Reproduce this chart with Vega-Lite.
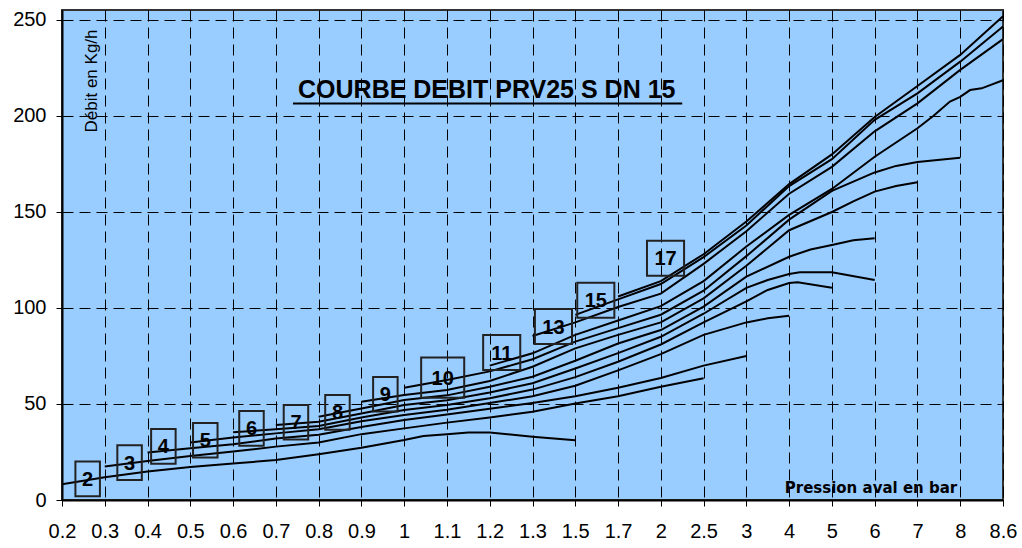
{
  "$schema": "https://vega.github.io/schema/vega-lite/v6.json",
  "width": 941,
  "height": 490,
  "autosize": {"type": "none"},
  "padding": {"left": 62, "top": 10, "right": 19, "bottom": 48},
  "background": "white",
  "config": {
    "view": {"fill": "#99CCFF", "stroke": "#333333", "strokeWidth": 2},
    "font": "Liberation Sans"
  },
  "datasets": {
    "curves": [
      {"c": "2", "x": 0, "y": 8.2}, {"c": "2", "x": 1, "y": 11.9}, {"c": "2", "x": 2, "y": 14.8}, {"c": "2", "x": 3, "y": 17.2}, {"c": "2", "x": 4, "y": 19}, {"c": "2", "x": 5, "y": 20.8}, {"c": "2", "x": 6, "y": 23.8}, {"c": "2", "x": 7, "y": 27.2}, {"c": "2", "x": 8, "y": 31.2}, {"c": "2", "x": 8.45, "y": 33.3}, {"c": "2", "x": 9, "y": 34.3}, {"c": "2", "x": 9.5, "y": 35.2}, {"c": "2", "x": 10, "y": 35.2}, {"c": "2", "x": 11, "y": 33}, {"c": "2", "x": 12, "y": 31.1},
      {"c": "3", "x": 1, "y": 17.4}, {"c": "3", "x": 2, "y": 20.3}, {"c": "3", "x": 3, "y": 22.9}, {"c": "3", "x": 4, "y": 25.2}, {"c": "3", "x": 5, "y": 27.8}, {"c": "3", "x": 6, "y": 30}, {"c": "3", "x": 7, "y": 34.3}, {"c": "3", "x": 8, "y": 37.3}, {"c": "3", "x": 9, "y": 40.3}, {"c": "3", "x": 10, "y": 43}, {"c": "3", "x": 11, "y": 46}, {"c": "3", "x": 12, "y": 50.3}, {"c": "3", "x": 13, "y": 54}, {"c": "3", "x": 14, "y": 59}, {"c": "3", "x": 15, "y": 63.4},
      {"c": "4", "x": 2, "y": 24.8}, {"c": "4", "x": 3, "y": 26.9}, {"c": "4", "x": 4, "y": 29}, {"c": "4", "x": 5, "y": 32}, {"c": "4", "x": 6, "y": 34}, {"c": "4", "x": 7, "y": 38}, {"c": "4", "x": 8, "y": 41.7}, {"c": "4", "x": 9, "y": 44.5}, {"c": "4", "x": 10, "y": 47.5}, {"c": "4", "x": 11, "y": 50.5}, {"c": "4", "x": 12, "y": 54}, {"c": "4", "x": 13, "y": 58.5}, {"c": "4", "x": 14, "y": 63.5}, {"c": "4", "x": 15, "y": 70}, {"c": "4", "x": 16, "y": 75},
      {"c": "5", "x": 3, "y": 30}, {"c": "5", "x": 4, "y": 32.6}, {"c": "5", "x": 5, "y": 34.7}, {"c": "5", "x": 6, "y": 36.8}, {"c": "5", "x": 7, "y": 41}, {"c": "5", "x": 8, "y": 44.3}, {"c": "5", "x": 9, "y": 47}, {"c": "5", "x": 10, "y": 50.5}, {"c": "5", "x": 11, "y": 54}, {"c": "5", "x": 12, "y": 59.5}, {"c": "5", "x": 13, "y": 67.5}, {"c": "5", "x": 14, "y": 76}, {"c": "5", "x": 15, "y": 86}, {"c": "5", "x": 16, "y": 92.5}, {"c": "5", "x": 16.5, "y": 94.6}, {"c": "5", "x": 17, "y": 96},
      {"c": "6", "x": 4, "y": 35.3}, {"c": "6", "x": 5, "y": 36.8}, {"c": "6", "x": 6, "y": 38.5}, {"c": "6", "x": 7, "y": 43}, {"c": "6", "x": 8, "y": 46.9}, {"c": "6", "x": 9, "y": 49.5}, {"c": "6", "x": 10, "y": 53}, {"c": "6", "x": 11, "y": 57.5}, {"c": "6", "x": 12, "y": 64}, {"c": "6", "x": 13, "y": 72}, {"c": "6", "x": 14, "y": 81}, {"c": "6", "x": 15, "y": 92.5}, {"c": "6", "x": 16, "y": 103.5}, {"c": "6", "x": 16.5, "y": 109.4}, {"c": "6", "x": 17, "y": 113}, {"c": "6", "x": 17.2, "y": 113.4}, {"c": "6", "x": 18, "y": 110.6},
      {"c": "7", "x": 5, "y": 39}, {"c": "7", "x": 6, "y": 40.8}, {"c": "7", "x": 7, "y": 45}, {"c": "7", "x": 8, "y": 49.5}, {"c": "7", "x": 9, "y": 52}, {"c": "7", "x": 10, "y": 56}, {"c": "7", "x": 11, "y": 60.8}, {"c": "7", "x": 12, "y": 68.5}, {"c": "7", "x": 13, "y": 76.5}, {"c": "7", "x": 14, "y": 85}, {"c": "7", "x": 15, "y": 97}, {"c": "7", "x": 16, "y": 110.5}, {"c": "7", "x": 16.5, "y": 114.6}, {"c": "7", "x": 17, "y": 117.7}, {"c": "7", "x": 17.25, "y": 118.6}, {"c": "7", "x": 18, "y": 118.6}, {"c": "7", "x": 19, "y": 114.6},
      {"c": "8", "x": 6, "y": 43.4}, {"c": "8", "x": 7, "y": 47.7}, {"c": "8", "x": 8, "y": 52.1}, {"c": "8", "x": 9, "y": 54.5}, {"c": "8", "x": 10, "y": 59}, {"c": "8", "x": 11, "y": 64.2}, {"c": "8", "x": 12, "y": 72.5}, {"c": "8", "x": 13, "y": 81.5}, {"c": "8", "x": 14, "y": 88.5}, {"c": "8", "x": 15, "y": 100.7}, {"c": "8", "x": 16, "y": 116.3}, {"c": "8", "x": 17, "y": 126.7}, {"c": "8", "x": 17.5, "y": 130.5}, {"c": "8", "x": 18, "y": 132.8}, {"c": "8", "x": 18.5, "y": 135.3}, {"c": "8", "x": 19, "y": 136.3},
      {"c": "9", "x": 7, "y": 51.2}, {"c": "9", "x": 8, "y": 54.7}, {"c": "9", "x": 9, "y": 57.3}, {"c": "9", "x": 10, "y": 62}, {"c": "9", "x": 11, "y": 69.4}, {"c": "9", "x": 12, "y": 79}, {"c": "9", "x": 13, "y": 86}, {"c": "9", "x": 14, "y": 92.5}, {"c": "9", "x": 15, "y": 105}, {"c": "9", "x": 16, "y": 122}, {"c": "9", "x": 17, "y": 140.5}, {"c": "9", "x": 18, "y": 150}, {"c": "9", "x": 18.5, "y": 155.5}, {"c": "9", "x": 19, "y": 160.6}, {"c": "9", "x": 19.5, "y": 163.5}, {"c": "9", "x": 20, "y": 165.5},
      {"c": "10", "x": 8, "y": 58.5}, {"c": "10", "x": 9, "y": 62.5}, {"c": "10", "x": 10, "y": 67}, {"c": "10", "x": 11, "y": 73.3}, {"c": "10", "x": 12, "y": 82.5}, {"c": "10", "x": 13, "y": 89.5}, {"c": "10", "x": 14, "y": 96.5}, {"c": "10", "x": 15, "y": 109}, {"c": "10", "x": 16, "y": 127}, {"c": "10", "x": 17, "y": 146}, {"c": "10", "x": 18, "y": 161}, {"c": "10", "x": 18.5, "y": 165.8}, {"c": "10", "x": 19, "y": 170.6}, {"c": "10", "x": 19.5, "y": 174}, {"c": "10", "x": 20, "y": 176}, {"c": "10", "x": 21, "y": 178.3},
      {"c": "11", "x": 10, "y": 70}, {"c": "11", "x": 11, "y": 76.4}, {"c": "11", "x": 12, "y": 86}, {"c": "11", "x": 13, "y": 93.5}, {"c": "11", "x": 14, "y": 101}, {"c": "11", "x": 15, "y": 114}, {"c": "11", "x": 16, "y": 132}, {"c": "11", "x": 17, "y": 148.5}, {"c": "11", "x": 18, "y": 162}, {"c": "11", "x": 19, "y": 178.8}, {"c": "11", "x": 20, "y": 193.6}, {"c": "11", "x": 20.37, "y": 200}, {"c": "11", "x": 20.76, "y": 207.5}, {"c": "11", "x": 21, "y": 210}, {"c": "11", "x": 21.23, "y": 213.5}, {"c": "11", "x": 21.5, "y": 214.4}, {"c": "11", "x": 22, "y": 218.6},
      {"c": "13", "x": 11, "y": 85.4}, {"c": "13", "x": 12, "y": 92.5}, {"c": "13", "x": 13, "y": 100.5}, {"c": "13", "x": 14, "y": 107.5}, {"c": "13", "x": 15, "y": 123}, {"c": "13", "x": 16, "y": 140}, {"c": "13", "x": 17, "y": 159.5}, {"c": "13", "x": 18, "y": 173.5}, {"c": "13", "x": 19, "y": 192}, {"c": "13", "x": 20, "y": 206.6}, {"c": "13", "x": 21, "y": 224}, {"c": "13", "x": 22, "y": 240},
      {"c": "15", "x": 12, "y": 96.4}, {"c": "15", "x": 13, "y": 104.5}, {"c": "15", "x": 14, "y": 112.5}, {"c": "15", "x": 15, "y": 126.5}, {"c": "15", "x": 16, "y": 143}, {"c": "15", "x": 17, "y": 163.5}, {"c": "15", "x": 18, "y": 177.5}, {"c": "15", "x": 19, "y": 198}, {"c": "15", "x": 20, "y": 211.8}, {"c": "15", "x": 21, "y": 228.3}, {"c": "15", "x": 22, "y": 246.6},
      {"c": "17", "x": 13, "y": 106}, {"c": "17", "x": 14, "y": 114}, {"c": "17", "x": 15, "y": 128}, {"c": "17", "x": 16, "y": 145}, {"c": "17", "x": 17, "y": 164.5}, {"c": "17", "x": 18, "y": 180}, {"c": "17", "x": 19, "y": 199.5}, {"c": "17", "x": 20, "y": 215.6}, {"c": "17", "x": 21, "y": 231.8}, {"c": "17", "x": 22, "y": 252}
    ],
    "labels": [
      {"label": "2", "x": 0.6, "y": 11.0},
      {"label": "3", "x": 1.58, "y": 19.5},
      {"label": "4", "x": 2.37, "y": 27.9},
      {"label": "5", "x": 3.35, "y": 31.1},
      {"label": "6", "x": 4.43, "y": 37.3},
      {"label": "7", "x": 5.47, "y": 40.5},
      {"label": "8", "x": 6.44, "y": 45.6},
      {"label": "9", "x": 7.56, "y": 55.1},
      {"label": "10", "x": 8.9, "y": 63.8},
      {"label": "11", "x": 10.28, "y": 76.8},
      {"label": "13", "x": 11.49, "y": 90.3},
      {"label": "15", "x": 12.48, "y": 104},
      {"label": "17", "x": 14.11, "y": 125.9}
    ]
  },
  "layer": [
    {
      "data": {"name": "curves"},
      "mark": {"type": "line", "color": "black", "strokeWidth": 2},
      "encoding": {
        "x": {
          "field": "x", "type": "quantitative",
          "scale": {"domain": [0, 22], "nice": false, "zero": false},
          "axis": {
            "values": [0,1,2,3,4,5,6,7,8,9,10,11,12,13,14,15,16,17,18,19,20,21,22],
            "labelExpr": "['0.2','0.3','0.4','0.5','0.6','0.7','0.8','0.9','1','1.1','1.2','1.3','1.5','1.7','2','2.5','3','4','5','6','7','8','8.6'][datum.value]",
            "grid": true, "gridColor": "black", "gridDash": [11, 6], "gridWidth": 1, "gridOpacity": 1,
            "domainColor": "black", "domainWidth": 2,
            "tickColor": "black", "tickSize": 6, "tickWidth": 1,
            "labelFontSize": 20, "labelColor": "black", "labelPadding": 15, "labelFont": "Liberation Sans",
            "labelFlush": false, "labelOverlap": false,
            "title": "Pression aval en bar", "titleX": 808.5, "titleY": -8,
            "titleFont": "DejaVu Sans", "titleFontSize": 15, "titleFontWeight": "bold", "titleColor": "black",
            "titleAlign": "center", "titleBaseline": "alphabetic"
          }
        },
        "y": {
          "field": "y", "type": "quantitative",
          "scale": {"domain": [0, 255.2], "nice": false, "zero": true},
          "axis": {
            "values": [0, 50, 100, 150, 200, 250],
            "grid": true, "gridColor": "black", "gridDash": [11, 6], "gridWidth": 1, "gridOpacity": 1,
            "domainColor": "black", "domainWidth": 2,
            "tickColor": "black", "tickSize": 6, "tickWidth": 1,
            "labelFontSize": 20, "labelColor": "black", "labelPadding": 10, "labelFont": "Liberation Sans",
            "labelFlush": false,
            "title": "Débit en Kg/h", "titleX": 29, "titleY": 70.5, "titleAngle": 270,
            "titleFont": "Liberation Sans", "titleFontSize": 17, "titleFontWeight": "normal", "titleColor": "black",
            "titleAlign": "center", "titleBaseline": "middle"
          }
        },
        "detail": {"field": "c"}
      }
    },
    {
      "data": {"name": "labels"},
      "mark": {"type": "point", "filled": false, "stroke": "#222222", "strokeWidth": 2, "size": 1225, "opacity": 1, "strokeOpacity": 1},
      "encoding": {
        "x": {"field": "x", "type": "quantitative"},
        "y": {"field": "y", "type": "quantitative"},
        "shape": {
          "field": "label", "type": "nominal", "legend": null,
          "scale": {
            "domain": ["2","3","4","5","6","7","8","9","10","11","13","15","17"],
            "range": [
              "M-0.7,-0.99H0.7V0.99H-0.7Z", "M-0.7,-0.99H0.7V0.99H-0.7Z", "M-0.7,-0.99H0.7V0.99H-0.7Z", "M-0.7,-0.99H0.7V0.99H-0.7Z",
              "M-0.7,-0.99H0.7V0.99H-0.7Z", "M-0.7,-0.99H0.7V0.99H-0.7Z", "M-0.7,-0.99H0.7V0.99H-0.7Z", "M-0.7,-0.99H0.7V0.99H-0.7Z",
              "M-1.23,-1.15H1.23V1.15H-1.23Z",
              "M-1.06,-1H1.06V1H-1.06Z", "M-1.06,-1H1.06V1H-1.06Z", "M-1.06,-1H1.06V1H-1.06Z", "M-1.06,-1H1.06V1H-1.06Z"
            ]
          }
        }
      }
    },
    {
      "data": {"name": "labels"},
      "mark": {"type": "text", "fontSize": 20, "fontWeight": "bold", "color": "black", "font": "Liberation Sans", "align": "center", "baseline": "middle", "dy": 1},
      "encoding": {
        "x": {"field": "x", "type": "quantitative"},
        "y": {"field": "y", "type": "quantitative"},
        "text": {"field": "label"}
      }
    },
    {
      "data": {"values": [{}]},
      "mark": {"type": "text", "text": "COURBE DEBIT PRV25 S DN 15", "fontSize": 25, "fontWeight": "bold", "font": "Liberation Sans", "color": "black", "align": "center", "baseline": "alphabetic"},
      "encoding": {
        "x": {"datum": 9.93, "type": "quantitative"},
        "y": {"datum": 209.2, "type": "quantitative"}
      }
    },
    {
      "data": {"values": [{}]},
      "mark": {"type": "rule", "color": "black", "strokeWidth": 2},
      "encoding": {
        "x": {"datum": 5.4, "type": "quantitative"},
        "x2": {"datum": 14.5},
        "y": {"datum": 206.5, "type": "quantitative"}
      }
    }
  ]
}
